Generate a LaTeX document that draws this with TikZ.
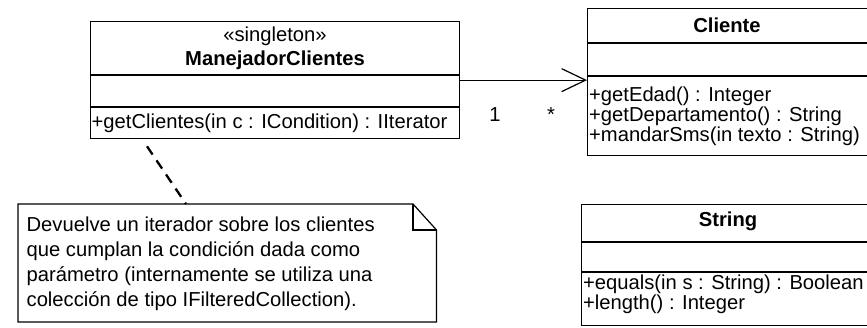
\documentclass[tikz,border=0pt]{standalone}
\usepackage{fontspec}
\setmainfont{Liberation Sans}
\usetikzlibrary{arrows.meta,calc}
\begin{document}
\begin{tikzpicture}[x=1pt,y=1pt, line width=1.3pt,
  every node/.style={inner sep=0pt, font=\fontsize{20.2}{24}\selectfont},
  cls/.style={draw, anchor=north west, inner sep=0pt},
  txt/.style={anchor=base west},
  ttl/.style={anchor=base, font=\fontsize{20.2}{24}\selectfont\bfseries},
  divider/.style={line width=1.3pt},
  assoc/.style={line width=1pt, -{Straight Barb[length=24pt,width=23pt,line width=1.2pt]}},
  notelink/.style={line width=2.3pt, dash pattern=on 10pt off 7pt},
  noteshape/.style={line width=1.2pt, line join=miter}]
\clip (0,0) rectangle (867,-328);
\useasboundingbox (0,0) rectangle (867,-328);

% ManejadorClientes
\node[cls, minimum width=369pt, minimum height=117pt] (mgr) at (90,-21) {};
\draw[divider] (90,-75) -- (459,-75);
\draw[divider] (90,-107) -- (459,-107);
\node[anchor=base] (mgrst) at (275,-42) {«singleton»};
\node[ttl] (mgrname) at (275,-66) {ManejadorClientes};
\node[txt] (mgrop) at (91,-128.3) {+getClientes(in c : ICondition) : IIterator};

% Cliente
\node[cls, minimum width=295pt, minimum height=147pt] (cli) at (587,-8) {};
\draw[divider] (587,-43) -- (882,-43);
\draw[divider] (587,-76) -- (882,-76);
\node[ttl] (cliname) at (727,-32.5) {Cliente};
\node[txt] (clia) at (588.5,-101.7) {+getEdad() : Integer};
\node[txt] (clib) at (588.5,-121.7) {+getDepartamento() : String};
\node[txt] (clic) at (588.5,-141.7) {+mandarSms(in texto : String)};

% String
\node[cls, minimum width=300pt, minimum height=121pt] (str) at (581,-204) {};
\draw[divider] (581,-242) -- (881,-242);
\draw[divider] (581,-272) -- (881,-272);
\node[ttl] (strname) at (728,-227) {String};
\node[txt] (stra) at (582.5,-290) {+equals(in s : String) : Boolean};
\node[txt] (strb) at (582.5,-310) {+length() : Integer};

% association
\draw[assoc] (mgr.east) -- (mgr.east -| cli.west);
\node[anchor=base] (mult1) at (495,-121.7) {1};
\node[anchor=base] (mult2) at (551,-121.7) {*};

% note
\coordinate (nNW) at (18,-204);
\coordinate (nF1) at (413,-204);
\coordinate (nF2) at (436.5,-230);
\coordinate (nSE) at (436.5,-322);
\coordinate (nSW) at (18,-322);
\coordinate (nF3) at (413,-230);
\draw[noteshape] (nNW) -- (nF1) -- (nF2) -- (nSE) -- (nSW) -- cycle;
\draw[noteshape] (nF1) -- (nF3) -- (nF2);
\node[txt] (n1) at (26,-231.7) {Devuelve un iterador sobre los clientes};
\node[txt] (n2) at (26,-256.7) {que cumplan la condición dada como};
\node[txt] (n3) at (26,-281.7) {parámetro (internamente se utiliza una};
\node[txt] (n4) at (26,-306.7) {colección de tipo IFilteredCollection).};

% note link
\coordinate (linkA) at ($(mgr.south west)+(57,-7)$);
\coordinate (linkB) at (186,-204);
\draw[notelink] (linkA) -- (linkB);
\end{tikzpicture}
\end{document}
